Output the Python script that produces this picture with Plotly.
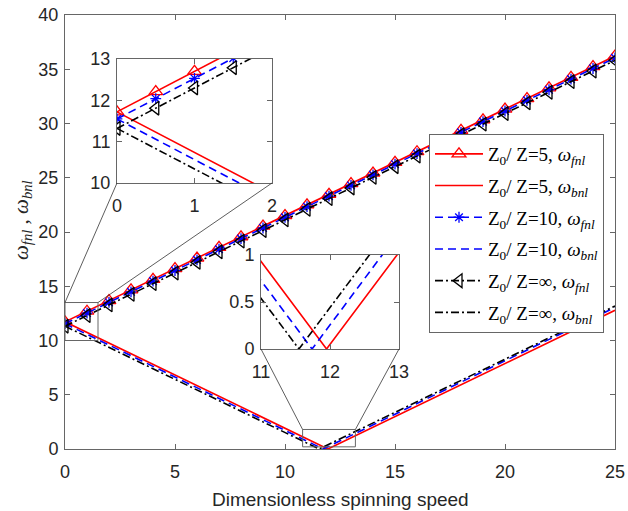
import plotly.graph_objects as go

# ---------------- data ----------------
x_main = list(range(26))
fwd_z5 = [11.72, 12.70, 13.68, 14.66, 15.64, 16.62, 17.60, 18.58, 19.56, 20.54, 21.52, 22.50, 23.48,
          24.46, 25.44, 26.42, 27.40, 28.38, 29.36, 30.34, 31.32, 32.30, 33.28, 34.26, 35.24, 36.22]
fwd_z10 = [11.55, 12.53, 13.51, 14.49, 15.47, 16.45, 17.43, 18.41, 19.39, 20.37, 21.35, 22.33, 23.31,
           24.29, 25.27, 26.25, 27.23, 28.21, 29.19, 30.17, 31.15, 32.13, 33.11, 34.09, 35.07, 36.05]
fwd_zinf = [11.32, 12.30, 13.28, 14.26, 15.24, 16.22, 17.20, 18.18, 19.16, 20.14, 21.12, 22.10, 23.08,
            24.06, 25.04, 26.02, 27.00, 27.98, 28.96, 29.94, 30.92, 31.90, 32.88, 33.86, 34.84, 35.82]

x_inset = [0, 0.5, 1, 1.5, 2]
fwd_z5_in = [11.72, 12.21, 12.70, 13.19, 13.68]
fwd_z10_in = [11.55, 12.04, 12.53, 13.02, 13.51]
fwd_zinf_in = [11.32, 11.81, 12.30, 12.79, 13.28]

x_bwd_z5 = [0, 11.95, 25]
bwd_z5 = [11.72, 0.0, 12.78]
x_bwd_z10 = [0, 11.74, 25]
bwd_z10 = [11.55, 0.0, 13.05]
x_bwd_zinf = [0, 11.55, 25]
bwd_zinf = [11.32, 0.0, 13.18]

names = ["Z<sub>0</sub>/ Z=5, <i>ω</i><sub><i>fnl</i></sub>",
         "Z<sub>0</sub>/ Z=5, <i>ω</i><sub><i>bnl</i></sub>",
         "Z<sub>0</sub>/ Z=10, <i>ω</i><sub><i>fnl</i></sub>",
         "Z<sub>0</sub>/ Z=10, <i>ω</i><sub><i>bnl</i></sub>",
         "Z<sub>0</sub>/ Z=∞, <i>ω</i><sub><i>fnl</i></sub>",
         "Z<sub>0</sub>/ Z=∞, <i>ω</i><sub><i>bnl</i></sub>"]

zoom1_box = [0, 1.5, 10, 13.5]
zoom2_box = [10.8, 13.2, 0.2, 1.8]

# ---------------- layout geometry ----------------
W, H = 628, 511
def px_x(p): return p / W
def px_y(p): return (H - p) / H

XD = [px_x(65), px_x(615)]
YD = [px_y(449), px_y(15)]
X2D = [px_x(117), px_x(272)]
Y2D = [px_y(183), px_y(59)]
X3D = [px_x(261), px_x(399)]
Y3D = [px_y(349), px_y(255)]

RED, BLUE, BLACK = "#ff0000", "#0000ff", "#000000"
styles = {
    "z5": dict(color=RED, dash="solid", symbol="triangle-up-open", size=12),
    "z10": dict(color=BLUE, dash="8px,5px", symbol="asterisk-open", size=9),
    "zinf": dict(color=BLACK, dash="8px,3px,2px,3px", symbol="triangle-left-open", size=12),
}

fig = go.Figure()
counter = [0]

def add_fwd(x, y, key, name, xa, ya, show):
    s = styles[key]
    counter[0] += 1
    fig.add_trace(go.Scatter(x=x, y=y, mode="lines+markers", name=name, showlegend=show,
                             legendgroup="g%d" % counter[0],
                             xaxis=xa, yaxis=ya,
                             line=dict(color=s["color"], dash=s["dash"], width=1.6),
                             marker=dict(symbol=s["symbol"], size=s["size"], color=s["color"],
                                         line=dict(color=s["color"], width=1.3))))

def add_bwd(x, y, key, name, xa, ya, show):
    s = styles[key]
    counter[0] += 1
    fig.add_trace(go.Scatter(x=x, y=y, mode="lines", name=name, showlegend=show,
                             legendgroup="g%d" % counter[0],
                             xaxis=xa, yaxis=ya,
                             line=dict(color=s["color"], dash=s["dash"], width=1.6)))

# main
add_fwd(x_main, fwd_z5, "z5", names[0], "x", "y", True)
add_bwd(x_bwd_z5, bwd_z5, "z5", names[1], "x", "y", True)
add_fwd(x_main, fwd_z10, "z10", names[2], "x", "y", True)
add_bwd(x_bwd_z10, bwd_z10, "z10", names[3], "x", "y", True)
add_fwd(x_main, fwd_zinf, "zinf", names[4], "x", "y", True)
add_bwd(x_bwd_zinf, bwd_zinf, "zinf", names[5], "x", "y", True)
# inset 1
add_fwd(x_inset, fwd_z5_in, "z5", names[0], "x2", "y2", False)
add_bwd(x_bwd_z5, bwd_z5, "z5", names[1], "x2", "y2", False)
add_fwd(x_inset, fwd_z10_in, "z10", names[2], "x2", "y2", False)
add_bwd(x_bwd_z10, bwd_z10, "z10", names[3], "x2", "y2", False)
add_fwd(x_inset, fwd_zinf_in, "zinf", names[4], "x2", "y2", False)
add_bwd(x_bwd_zinf, bwd_zinf, "zinf", names[5], "x2", "y2", False)
# inset 2
add_bwd(x_bwd_z5, bwd_z5, "z5", names[1], "x3", "y3", False)
add_bwd(x_bwd_z10, bwd_z10, "z10", names[3], "x3", "y3", False)
add_bwd(x_bwd_zinf, bwd_zinf, "zinf", names[5], "x3", "y3", False)

AX = "#666666"
TICKF = dict(family="Liberation Sans, Arial, sans-serif", size=18, color="#262626")
def axis(domain, rng, dtick, anchor, **kw):
    d = dict(domain=domain, range=rng, dtick=dtick, tick0=rng[0], anchor=anchor,
             showline=True, linecolor=AX, linewidth=1, mirror="ticks",
             ticks="inside", ticklen=5, tickcolor=AX, tickwidth=1,
             showgrid=False, zeroline=False, tickfont=TICKF, automargin=False, fixedrange=True)
    d.update(kw)
    return d

fig.update_layout(
    width=W, height=H,
    margin=dict(l=0, r=0, t=0, b=0),
    paper_bgcolor="white", plot_bgcolor="white",
    xaxis=axis(XD, [0, 25], 5, "y", ticklabelstandoff=6),
    yaxis=axis(YD, [0, 40], 5, "x", ticklabelstandoff=2),
    xaxis2=axis(X2D, [0, 2], 1, "y2", ticklabelstandoff=6),
    yaxis2=axis(Y2D, [10, 13], 1, "x2", ticklabelstandoff=2),
    xaxis3=axis(X3D, [11, 13], 1, "y3", ticklabelstandoff=6),
    yaxis3=axis(Y3D, [0, 1], 0.5, "x3", ticklabelstandoff=2),
    showlegend=True,
    legend=dict(x=px_x(429), y=px_y(134), xanchor="left", yanchor="top",
                bgcolor="white", bordercolor=AX, borderwidth=1,
                font=dict(family="Liberation Serif, Times New Roman, serif", size=19, color="#000"),
                itemwidth=48, tracegroupgap=4, traceorder="grouped"),
)

def to_paper(xv, yv):
    return (XD[0] + xv / 25 * (XD[1] - XD[0]), YD[0] + yv / 40 * (YD[1] - YD[0]))

shapes = []
for (bx0, bx1, by0, by1) in (zoom1_box, zoom2_box):
    shapes.append(dict(type="rect", xref="x", yref="y", x0=bx0, x1=bx1, y0=by0, y1=by1,
                       line=dict(color=AX, width=1)))
# connectors
for (ix, iy), (bx, by) in [((X2D[0], Y2D[0]), (zoom1_box[0], zoom1_box[3])),
                           ((X2D[1], Y2D[0]), (zoom1_box[1], zoom1_box[3])),
                           ((X3D[0], Y3D[0]), (zoom2_box[0], zoom2_box[3])),
                           ((X3D[1], Y3D[0]), (zoom2_box[1], zoom2_box[3]))]:
    px_, py_ = to_paper(bx, by)
    shapes.append(dict(type="line", xref="paper", yref="paper", x0=ix, y0=iy, x1=px_, y1=py_,
                       line=dict(color="#333333", width=0.8)))
fig.update_layout(shapes=shapes)

fig.add_annotation(text="Dimensionless spinning speed", xref="paper", yref="paper",
                   x=(XD[0] + XD[1]) / 2, y=px_y(499), xanchor="center", yanchor="middle",
                   showarrow=False,
                   font=dict(family="Liberation Sans, Arial, sans-serif", size=19, color="#262626"))
fig.add_annotation(text="<i>ω</i><sub><i>fnl</i></sub> , <i>ω</i><sub><i>bnl</i></sub>",
                   xref="paper", yref="paper", x=px_x(22), y=px_y(220), textangle=-90,
                   xanchor="center", yanchor="middle", showarrow=False,
                   font=dict(family="Liberation Serif, Times New Roman, serif", size=21, color="#262626"))

fig.write_html("out.html", post_script="document.body.style.margin='0';",
               config={"displayModeBar": False})
